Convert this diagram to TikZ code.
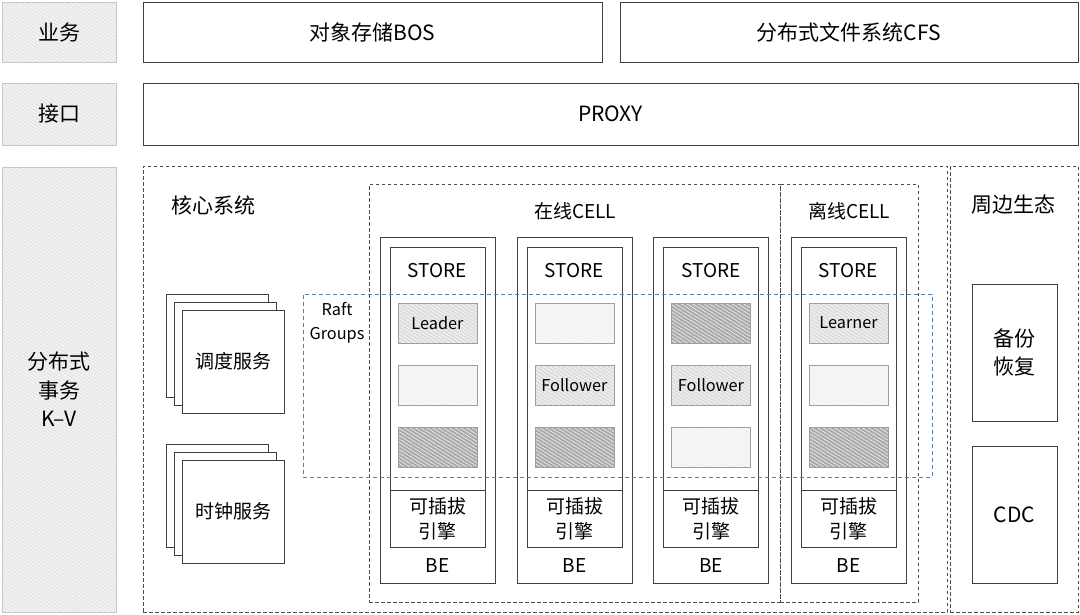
\documentclass[tikz,border=0pt]{standalone}
\usepackage{fontspec}
\setmainfont{Noto Sans CJK SC}
\usetikzlibrary{patterns.meta,positioning}

\definecolor{raftblue}{HTML}{5A7FAA}

\begin{document}
\begin{tikzpicture}[x=1pt,y=-1pt,
  font=\fontsize{21}{28.5}\selectfont,
  frame/.style={draw=black!75, fill=white, line width=0.9pt, inner sep=0pt, align=center},
  tag/.style={draw=black!22, line width=0.8pt, preaction={fill=black!9},
    pattern={Lines[angle=-32,distance=3pt,line width=0.5pt]}, pattern color=white,
    inner sep=0pt, align=center},
  zone/.style={draw=black!70, dash pattern=on 3.5pt off 2.5pt, line width=0.8pt, inner sep=0pt},
  slot/.style={draw=black!38, line width=0.8pt, minimum width=79, minimum height=40, inner sep=0pt,
    pattern={Lines[angle=-32,distance=3pt,line width=0.5pt]}, pattern color=white},
  dark/.style={preaction={fill=black!33}},
  mid/.style={preaction={fill=black!13}},
  pale/.style={preaction={fill=black!5}},
  small/.style={font=\fontsize{19}{25}\selectfont},
  tiny/.style={font=\fontsize{16.3}{24}\selectfont}
]
\useasboundingbox (0,0) rectangle (1080,614);

% left column
\node[tag, minimum width=114, minimum height=60] (biztag) at (59,32) {业务};
\node[tag, minimum width=114, minimum height=62] (apitag) at (59,114) {接口};
\node[tag, minimum width=114, minimum height=445] (kvtag) at (59,389.5) {分布式\\事务\\K–V};

% top rows
\node[frame, minimum width=459, minimum height=60] (bos) at (372.5,32) {对象存储BOS};
\node[frame, minimum width=458, minimum height=60] (cfs) at (849,32) {分布式文件系统CFS};
\node[frame, minimum width=935, minimum height=62] (proxy) at (610.5,114) {PROXY};

% dashed areas
\node[zone, minimum width=804, minimum height=446] (core) at (545,389) {};
\node[zone, minimum width=128, minimum height=446] (eco) at (1014,389) {};
\node[zone, minimum width=411, minimum height=418] (online) at (574.5,393) {};
\node[zone, minimum width=138, minimum height=418] (offline) at (849,393) {};

\node (corelbl) at (213,205) {核心系统};
\node[small] (onlinelbl) at (575,211) {在线CELL};
\node[small] (offlinelbl) at (849,211) {离线CELL};
\node (ecolbl) at (1013,205) {周边生态};

% stacked services
\foreach \n/\y/\t in {sched/361.5/调度服务, clock/511.5/时钟服务} {
  \node[frame, minimum width=102, minimum height=103] (\n3) at (217,\y-16) {};
  \node[frame, minimum width=102, minimum height=103] (\n2) at (225,\y-8) {};
  \node[frame, minimum width=102, minimum height=103, small] (\n1) at (233,\y) {\t};
}

% BE columns
\foreach \i/\cx/\sa/\sb/\sc/\k/\role in {1/437.5/mid/pale/dark/1/Leader,
    2/574.5/pale/mid/dark/2/Follower, 3/711/dark/mid/pale/2/Follower,
    4/848.5/mid/pale/dark/1/Learner} {
  \node[frame, minimum width=115, minimum height=346] (be\i) at (\cx,410) {};
  \node[small] (belbl\i) at (\cx,566) {BE};
  \node[frame, minimum width=95, minimum height=243] (store\i) at (\cx,368.5) {};
  \node[small] (storelbl\i) at (\cx,271) {STORE};
  \node[frame, minimum width=95, minimum height=57, font=\fontsize{19}{25}\selectfont] (eng\i) at (\cx,518.5) {可插拔\\引擎};
  \node[slot,\sa] (slot\i-1) at (\cx,323) {};
  \node[slot,\sb] (slot\i-2) at (\cx,385) {};
  \node[slot,\sc] (slot\i-3) at (\cx,447) {};
  \node[tiny] at (slot\i-\k) {\role};
}

% raft groups
\node[draw=raftblue, dash pattern=on 4pt off 3pt, line width=0.9pt, minimum width=629, minimum height=183, inner sep=0pt] (raft) at (617.5,385.5) {};
\node[tiny, align=center] (raftlbl) at (337,323) {Raft\\Groups};

% ecosystem
\node[frame, minimum width=85, minimum height=137] (backup) at (1014.5,352.5) {备份\\恢复};
\node[frame, minimum width=85, minimum height=137] (cdc) at (1014.5,514.5) {CDC};
\end{tikzpicture}
\end{document}
